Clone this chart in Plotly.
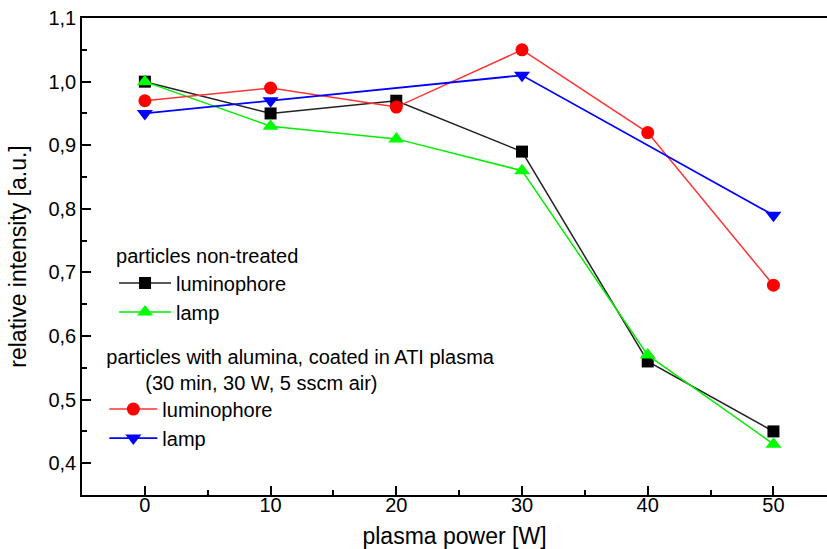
import plotly.graph_objects as go

# ---- data ----
power = [0, 10, 20, 30, 40, 50]
lum_untreated = [1.00, 0.95, 0.97, 0.89, 0.56, 0.45]
lamp_untreated = [1.00, 0.93, 0.91, 0.86, 0.57, 0.43]
lum_coated = [0.97, 0.99, 0.96, 1.05, 0.92, 0.68]
power_lamp_coated = [0, 10, 30, 50]
lamp_coated = [0.95, 0.97, 1.01, 0.79]

x_ticks = [0, 10, 20, 30, 40, 50]
y_ticks = [0.4, 0.5, 0.6, 0.7, 0.8, 0.9, 1.0, 1.1]

FONT = "Liberation Sans, Arial, sans-serif"

fig = go.Figure()
fig.add_trace(go.Scatter(x=power, y=lum_untreated, mode="lines+markers", name="luminophore",
                         line=dict(color="#222222", width=1.5),
                         marker=dict(symbol="square", size=12, color="black"),
                         legend="legend"))
fig.add_trace(go.Scatter(x=power, y=lamp_untreated, mode="lines+markers", name="lamp",
                         line=dict(color="#00ee00", width=1.5),
                         marker=dict(symbol="triangle-up", size=14, color="#00ff00"),
                         legend="legend"))
fig.add_trace(go.Scatter(x=power, y=lum_coated, mode="lines+markers", name="luminophore",
                         line=dict(color="#ff3333", width=1.5),
                         marker=dict(symbol="circle", size=13, color="#ff0000"),
                         legend="legend2"))
fig.add_trace(go.Scatter(x=power_lamp_coated, y=lamp_coated, mode="lines+markers", name="lamp",
                         line=dict(color="#0000ff", width=1.8),
                         marker=dict(symbol="triangle-down", size=14, color="#0000ff"),
                         legend="legend2"))

axis_common = dict(showgrid=False, zeroline=False, showline=True, linecolor="black", linewidth=1.5,
                   ticks="inside", ticklen=9, tickwidth=1.5, tickcolor="black", automargin=False,
                   tickfont=dict(family=FONT, size=20, color="black"))

fig.update_layout(
    width=827, height=549,
    margin=dict(l=82, r=0, t=18, b=54),
    paper_bgcolor="white", plot_bgcolor="white",
    separators=",.",
    font=dict(family=FONT, color="black"),
    showlegend=True,
    xaxis=dict(**axis_common, range=[-5, 54.26], tickvals=x_ticks, mirror=True, ticklabelstandoff=-9,
               minor=dict(dtick=5, tick0=0, ticks="inside", ticklen=5, tickwidth=1.5, tickcolor="black"),
               title=dict(text="plasma power [W]", font=dict(family=FONT, size=23))),
    yaxis=dict(**axis_common, range=[0.35, 1.1001], tickvals=y_ticks, tickformat=".1f",
               minor=dict(dtick=0.05, tick0=0, ticks="inside", ticklen=5, tickwidth=1.5, tickcolor="black"),
               title=dict(text="relative intensity [a.u.]", font=dict(family=FONT, size=23))),
    legend=dict(x=0.043, y=0.540, xanchor="left", yanchor="top", bgcolor="rgba(0,0,0,0)",
                font=dict(family=FONT, size=20), itemwidth=52,
                title=dict(text="particles non-treated", font=dict(family=FONT, size=20)),
                tracegroupgap=0),
    legend2=dict(x=0.030, y=0.330, xanchor="left", yanchor="top", bgcolor="rgba(0,0,0,0)",
                 font=dict(family=FONT, size=20), itemwidth=48,
                 title=dict(text="particles with alumina, coated in ATI plasma<br>" + "\u00a0" * 7 + "(30 min, 30 W, 5 sscm air)",
                            font=dict(family=FONT, size=20)),
                 tracegroupgap=0),
)

fig.write_html("out.html", config={"displayModeBar": False},
               post_script="document.body.style.margin='0px';document.body.style.overflow='hidden';")
